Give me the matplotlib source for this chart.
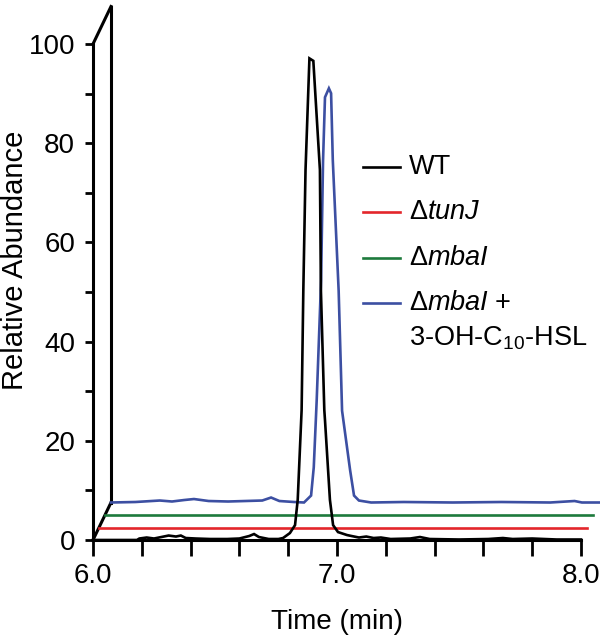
"""Stacked extracted-ion chromatograms of 3-OH-C10-HSL for WT and mutants."""

import matplotlib

matplotlib.use("Agg")  # no display in the sandbox

import matplotlib.pyplot as plt
from matplotlib import font_manager
from matplotlib.transforms import ScaledTranslation

# each trace in its own frame: time (min) vs relative abundance
wt_time = [6.00, 6.18, 6.19, 6.22, 6.25, 6.28, 6.31, 6.34, 6.36, 6.38, 6.42,
           6.48, 6.55, 6.60, 6.64, 6.66, 6.68, 6.72, 6.76, 6.779, 6.807,
           6.828, 6.839, 6.855, 6.862, 6.871, 6.887, 6.903, 6.930, 6.934,
           6.948, 6.951, 6.971, 6.984, 7.004, 7.041, 7.06, 7.09, 7.12, 7.15,
           7.18, 7.22, 7.30, 7.34, 7.38, 7.50, 7.62, 7.68, 7.72, 7.80, 7.90,
           8.00]
wt_abund = [0.0, 0.0, 0.3, 0.5, 0.3, 0.6, 0.9, 0.7, 0.9, 0.4, 0.3,
            0.2, 0.2, 0.3, 0.8, 1.2, 0.6, 0.2, 0.2, 0.4, 1.4,
            3.0, 8.1, 26.2, 50.4, 74.6, 97.1, 96.6, 74.6, 50.4,
            26.2, 24.0, 8.1, 3.0, 1.6, 1.0, 0.8, 0.5, 0.7, 0.4,
            0.5, 0.2, 0.3, 0.6, 0.2, 0.1, 0.2, 0.4, 0.2, 0.3, 0.1,
            0.1]

tunj_time = [6.0, 8.0]
tunj_abund = [0.0, 0.0]

mbai_time = [6.0, 8.0]
mbai_abund = [0.0, 0.0]

rescue_time = [6.00, 6.10, 6.20, 6.25, 6.30, 6.34, 6.40, 6.48, 6.55, 6.62,
               6.656, 6.69, 6.75, 6.791, 6.820, 6.831, 6.843, 6.861, 6.869,
               6.877, 6.893, 6.902, 6.909, 6.933, 6.947, 6.980, 6.996, 7.016,
               7.066, 7.20, 7.40, 7.60, 7.80, 7.90, 7.93, 8.00]
rescue_abund = [0.0, 0.1, 0.4, 0.2, 0.5, 0.7, 0.3, 0.2, 0.3, 0.4,
                1.0, 0.3, 0.1, 0.0, 1.4, 7.1, 20.6, 44.8, 68.9,
                81.7, 83.5, 82.5, 69.0, 42.7, 18.5, 6.5, 1.4, 0.4,
                0.0, 0.1, 0.0, 0.1, 0.0, 0.3, 0.0, 0.0]

labels = ["WT", "Δ$\\mathit{tunJ}$", "Δ$\\mathit{mbaI}$",
          "Δ$\\mathit{mbaI}$ +"]
rescue_label_2 = "3-OH-C$_{10}$-HSL"
colors = ["#000000", "#e3262b", "#1d7a3c", "#3c4fa2"]

y_ticks = list(range(0, 101, 10))
x_ticks = [6.0, 6.2, 6.4, 6.6, 6.8, 7.0, 7.2, 7.4, 7.6, 7.8, 8.0]

# pseudo-3D stacking step, in inches (figure is 100 dpi)
DX, DY = 0.06, 0.125

installed = {f.name for f in font_manager.fontManager.ttflist}
family = "Liberation Sans Narrow" if "Liberation Sans Narrow" in installed else "Liberation Sans"
plt.rcParams["font.family"] = [family, "DejaVu Sans"]
plt.rcParams["mathtext.fontset"] = "custom"
plt.rcParams["mathtext.rm"] = family
plt.rcParams["mathtext.it"] = family + ":italic"

fig = plt.figure(figsize=(6.0, 6.43), dpi=100)
ax = fig.add_axes([93 / 600, 103 / 643, 488 / 600, 496 / 643])

traces = [(wt_time, wt_abund), (tunj_time, tunj_abund),
          (mbai_time, mbai_abund), (rescue_time, rescue_abund)]
for i, ((t, a), c) in enumerate(zip(traces, colors)):
    shift = ScaledTranslation(i * DX, i * DY, fig.dpi_scale_trans)
    ax.plot(t, a, color=c, lw=1.9, clip_on=False, zorder=3 - i * 0.1,
            transform=ax.transData + shift, solid_joinstyle="miter")

# back wall of the stack
back = ScaledTranslation(3 * DX, 3 * DY, fig.dpi_scale_trans)
ax.plot([6.0, 6.0], [0, 100], color="k", lw=2.2, clip_on=False,
        transform=ax.transData + back)
for yv in (0, 100):
    corner = fig.dpi_scale_trans + ScaledTranslation(6.0, yv, ax.transData)
    ax.plot([0, 3 * DX], [0, 3 * DY], color="k", lw=2.2, clip_on=False,
            transform=corner, solid_capstyle="projecting")

ax.set_xlim(6.0, 8.0)
ax.set_ylim(0, 100)
ax.set_xticks(x_ticks)
ax.set_xticklabels([f"{v:.1f}" if abs(v - round(v)) < 1e-6 else "" for v in x_ticks])
ax.set_yticks(y_ticks)
ax.set_yticklabels([str(v) if v % 20 == 0 else "" for v in y_ticks])
ax.tick_params(axis="y", length=5.8, width=2.0, pad=7, labelsize=20)
ax.tick_params(axis="x", length=11.5, width=2.0, pad=5, labelsize=20)
for side in ("top", "right"):
    ax.spines[side].set_visible(False)
for side in ("left", "bottom"):
    ax.spines[side].set_linewidth(2.2)
ax.patch.set_visible(False)

fig.text(15 / 600, 1 - 260 / 643, "Relative Abundance", rotation=90,
         ha="center", va="center", fontsize=21)
fig.text(337 / 600, 1 - 622 / 643, "Time (min)", ha="center", va="center",
         fontsize=20)

# hand-placed legend
rows = [167, 212, 258, 303]
for y, lab, c in zip(rows, labels, colors):
    fy = 1 - y / 643
    fig.add_artist(plt.Line2D([363 / 600, 400 / 600], [fy, fy], color=c, lw=1.9))
    fig.text(409 / 600, fy, lab, ha="left", va="center", fontsize=19.5)
fig.text(409 / 600, 1 - 338 / 643, rescue_label_2, ha="left", va="center",
         fontsize=19.5)

fig.savefig("out.png", dpi=100)
